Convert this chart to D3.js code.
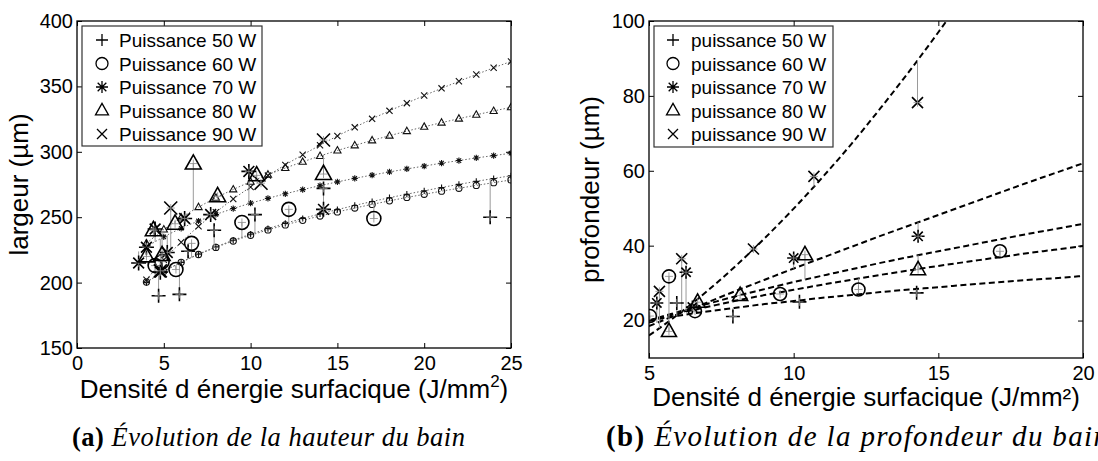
<!DOCTYPE html>
<html>
<head>
<meta charset="utf-8">
<script src="https://cdn.jsdelivr.net/npm/d3@7"></script>
<style>
  body { margin: 0; background: #fff; }
  svg { display: block; font-family: "Liberation Sans", Arial, sans-serif; }
</style>
</head>
<body>
<svg id="fig" width="1098" height="461"></svg>
<script>
// ---------- data ----------
const powerLabels = ["50 W", "60 W", "70 W", "80 W", "90 W"];
const markerKinds = ["plus", "circle", "star", "triangle", "cross"];

// (a) largeur du bain : courbes de tendance échantillonnées à chaque J/mm²
const fitAX = [4,5,6,7,8,9,10,11,12,13,14,15,16,17,18,19,20,21,22,23,24,25];
const fitA50 = [200.0,208.5,215.5,221.8,227.3,232.4,237.0,241.3,245.3,249.0,252.5,255.8,259.0,262.0,264.9,267.6,270.2,272.7,275.1,277.4,279.6,281.7];
const fitA60 = [200.4,208.6,215.5,221.5,226.9,231.8,236.2,240.3,244.1,247.6,250.9,254.0,257.0,259.8,262.5,265.1,267.5,269.9,272.1,274.3,276.4,278.5];
const fitA70 = [227.3,235.0,241.5,247.1,252.1,256.6,260.7,264.4,267.9,271.1,274.1,277.0,279.7,282.2,284.6,286.9,289.1,291.3,293.3,295.3,297.1,298.9];
const fitA80 = [230.0,240.6,249.7,257.7,264.8,271.2,277.1,282.5,287.6,292.3,296.8,301.0,304.9,308.7,312.3,315.8,319.1,322.3,325.3,328.3,331.2,334.0];
const fitA90 = [202.2,217.5,230.9,243.0,253.8,263.9,273.1,281.8,290.0,297.7,305.0,312.1,318.7,325.2,331.3,337.2,343.0,348.5,353.9,359.1,364.2,369.1];

// mesures [densité, largeur]
const dataA50 = [[4.7,190],[5.9,191],[6.4,224],[7.9,240],[10.25,252],[14.2,272],[23.8,250]];
const dataA60 = [[4.5,213],[4.9,216],[5.7,210],[6.6,230],[9.5,246],[12.2,256],[17.1,249]];
const dataA70 = [[3.55,215],[4.0,227],[4.5,241],[4.8,208],[5.2,223],[6.2,249],[7.7,252],[9.9,285],[14.2,256]];
const dataA80 = [[4.0,220],[4.4,240],[4.9,221],[5.65,245],[6.7,291],[8.1,266],[10.35,282],[14.2,283]];
const dataA90 = [[4.8,209],[5.4,257],[10.6,276],[14.2,309]];

// (b) profondeur du bain : courbes de tendance
const fitBX = [5,6,7,8,9,10,11,12,13,14,15,16,17,18,19,20];
const fitB50 = [20.0,21.3,22.4,23.4,24.4,25.2,26.1,26.8,27.6,28.3,28.9,29.6,30.2,30.8,31.3,31.9];
const fitB60 = [20.0,21.9,23.6,25.3,26.8,28.2,29.6,30.9,32.2,33.4,34.6,35.7,36.8,37.9,38.9,39.9];
const fitB70 = [18.5,21.7,24.8,27.9,30.9,33.9,36.8,39.7,42.6,45.4,48.2,51.0,53.8,56.6,59.3,62.0];
const fitB80 = [20.0,22.3,24.4,26.5,28.4,30.3,32.0,33.7,35.4,37.0,38.5,40.0,41.5,43.0,44.4,45.8];
const fitB90X = [5,6,7,8,9,10,11,12,13,14,15,16];
const fitB90 = [16.0,21.6,27.8,34.6,42.0,49.9,58.3,67.2,76.7,86.6,97.0,107.8];

const dataB50 = [[5.96,24.7],[7.9,21.1],[10.2,25.0],[14.25,27.4]];
const dataB60 = [[5.03,21.2],[5.69,31.8],[6.59,22.5],[9.53,27.1],[12.24,28.3],[17.13,38.5]];
const dataB70 = [[5.27,24.7],[6.28,32.9],[6.5,23.6],[10.0,36.7],[14.3,42.5]];
const dataB80 = [[5.69,17.1],[6.68,24.9],[8.15,26.7],[10.39,37.6],[14.3,33.6]];
const dataB90 = [[5.36,27.8],[6.13,36.5],[8.61,39.1],[10.7,58.5],[14.28,78.2]];

// axes
const ticksAX = [0,5,10,15,20,25];
const ticksAY = [150,200,250,300,350,400];
const ticksBX = [5,10,15,20];
const ticksBY = [20,40,60,80,100];

// ---------- helpers ----------
const svg = d3.select("#fig");

function markerPath(kind, s) {
  switch (kind) {
    case "plus":  return `M${-s},0H${s}M0,${-s}V${s}`;
    case "cross": return `M${-s},${-s}L${s},${s}M${-s},${s}L${s},${-s}`;
    case "star": {
      const d = s * 0.72;
      return `M${-s},0H${s}M0,${-s}V${s}M${-d},${-d}L${d},${d}M${-d},${d}L${d},${-d}`;
    }
    case "triangle": return `M0,${-s * 1.1}L${s},${s * 0.68}L${-s},${s * 0.68}Z`;
    default: return `M${s},0A${s},${s} 0 1,1 ${-s},0A${s},${s} 0 1,1 ${s},0Z`;
  }
}

function fitAt(xs, ys, x) {
  let i = d3.bisectRight(xs, x) - 1;
  i = Math.max(0, Math.min(xs.length - 2, i));
  const t = (x - xs[i]) / (xs[i + 1] - xs[i]);
  return ys[i] + t * (ys[i + 1] - ys[i]);
}

function drawPanel(opt) {
  const { x, y, id, series } = opt;
  const [x0, x1] = x.range();
  const [y0, y1] = y.range(); // y0 bottom, y1 top
  const g = svg.append("g");

  g.append("clipPath").attr("id", id).append("rect")
    .attr("x", x0).attr("y", y1).attr("width", x1 - x0).attr("height", y0 - y1);

  const plot = g.append("g").attr("clip-path", `url(#${id})`);
  const line = d3.line().x(d => x(d[0])).y(d => y(d[1])).curve(d3.curveMonotoneX);

  // fitted curves
  series.forEach(s => {
    const pts = s.fitX.map((v, i) => [v, s.fit[i]]);
    plot.append("path").attr("d", line(pts))
      .attr("fill", "none")
      .attr("stroke", opt.fitColor)
      .attr("stroke-width", opt.fitWidth)
      .attr("stroke-dasharray", opt.fitDash);
    if (opt.fitMarkers) {
      plot.selectAll(null).data(pts).join("path")
        .attr("transform", d => `translate(${x(d[0])},${y(d[1])})`)
        .attr("d", markerPath(s.kind, s.kind === "triangle" ? 3.6 : 3.1))
        .attr("fill", "none").attr("stroke", "#111").attr("stroke-width", 1.1);
    }
  });

  // residual stems from each measurement to its curve
  series.forEach(s => {
    plot.selectAll(null).data(s.data).join("line")
      .attr("x1", d => x(d[0])).attr("x2", d => x(d[0]))
      .attr("y1", d => y(d[1])).attr("y2", d => y(fitAt(s.fitX, s.fit, d[0])))
      .attr("stroke", "#9a9a9a").attr("stroke-width", 1);
  });

  // measurements
  series.forEach(s => {
    const sz = opt.bigSize[s.kind];
    plot.selectAll(null).data(s.data).join("path")
      .attr("transform", d => `translate(${x(d[0])},${y(d[1])})`)
      .attr("d", markerPath(s.kind, sz))
      .attr("fill", "none").attr("stroke", "#000").attr("stroke-width", 1.6);
    plot.selectAll(null).data(s.data).join("path")
      .attr("transform", d => `translate(${x(d[0])},${y(d[1])})`)
      .attr("d", markerPath("plus", 4))
      .attr("fill", "none").attr("stroke", "#8a8a8a").attr("stroke-width", 0.8);
  });

  // axes with inward ticks
  const fs = 20;
  const styleAxis = sel => {
    sel.select(".domain").remove();
    sel.selectAll(".tick line").attr("stroke", "#000").attr("stroke-width", 1);
    sel.attr("font-size", fs).attr("font-family", "Liberation Sans, Arial, sans-serif");
    sel.selectAll("text").attr("fill", "#000");
  };
  g.append("g").attr("transform", `translate(0,${y0})`)
    .call(d3.axisBottom(x).tickValues(opt.ticksX).tickFormat(d3.format("d"))
      .tickSize(-5).tickPadding(opt.xPad)).call(styleAxis);
  g.append("g").attr("transform", `translate(0,${y1})`)
    .call(d3.axisTop(x).tickValues(opt.ticksX).tickFormat("").tickSize(-5)).call(styleAxis);
  g.append("g").attr("transform", `translate(${x0},0)`)
    .call(d3.axisLeft(y).tickValues(opt.ticksY).tickFormat(d3.format("d"))
      .tickSize(-5).tickPadding(4)).call(styleAxis);
  g.append("g").attr("transform", `translate(${x1},0)`)
    .call(d3.axisRight(y).tickValues(opt.ticksY).tickFormat("").tickSize(-5)).call(styleAxis);

  // frame
  g.append("rect").attr("x", x0).attr("y", y1)
    .attr("width", x1 - x0).attr("height", y0 - y1)
    .attr("fill", "none").attr("stroke", "#000").attr("stroke-width", 1.3);

  // legend
  const L = opt.legend;
  const lg = g.append("g");
  lg.append("rect").attr("x", L.x).attr("y", L.y).attr("width", L.w).attr("height", L.h)
    .attr("fill", "#fff").attr("stroke", "#333").attr("stroke-width", 1.2);
  series.forEach((s, i) => {
    const cy = L.y + 14 + i * 23.5;
    lg.append("path").attr("transform", `translate(${L.x + L.mx},${cy})`)
      .attr("d", markerPath(s.kind, s.kind === "triangle" ? 6.5 : (s.kind === "cross" ? 5 : 6)))
      .attr("fill", "none").attr("stroke", "#000").attr("stroke-width", 1.3);
    lg.append("text").attr("x", L.x + L.tx).attr("y", cy + 7)
      .attr("font-size", 19).text(`${L.word} ${s.name}`);
  });

  // axis titles
  const xt = g.append("text").attr("x", (x0 + x1) / 2).attr("y", opt.xTitleY)
    .attr("text-anchor", "middle").attr("font-size", 26);
  opt.xTitle(xt);
  g.append("text").attr("transform", `translate(${opt.yTitleX},${(y0 + y1) / 2}) rotate(-90)`)
    .attr("text-anchor", "middle").attr("font-size", 26).text(opt.yTitle);

  // caption
  const cap = g.append("text").attr("x", opt.cap.x).attr("y", opt.cap.y)
    .attr("font-family", "Liberation Serif, Times New Roman, serif")
    .attr("font-size", opt.cap.size)
    .attr("textLength", opt.cap.len).attr("lengthAdjust", "spacing");
  cap.append("tspan").attr("font-weight", "bold").text(opt.cap.tag + " ");
  cap.append("tspan").attr("font-style", "italic").text(opt.cap.text);
}

function buildSeries(fits, fitXs, datas) {
  return powerLabels.map((name, i) => ({
    name, kind: markerKinds[i], fit: fits[i], fitX: fitXs[i], data: datas[i]
  }));
}

// ---------- panel (a) ----------
drawPanel({
  id: "clipA",
  x: d3.scaleLinear([0, 25], [77, 511]),
  y: d3.scaleLinear([150, 400], [348, 21]),
  ticksX: ticksAX, ticksY: ticksAY, xPad: 8,
  series: buildSeries([fitA50, fitA60, fitA70, fitA80, fitA90],
                      [fitAX, fitAX, fitAX, fitAX, fitAX],
                      [dataA50, dataA60, dataA70, dataA80, dataA90]),
  fitColor: "#666", fitWidth: 1, fitDash: "1.5,2", fitMarkers: true,
  bigSize: { plus: 7, circle: 7, star: 7.5, triangle: 8, cross: 6.5 },
  legend: { x: 82, y: 26, w: 180, h: 120, mx: 20, tx: 37, word: "Puissance" },
  xTitleY: 398,
  xTitle: t => {
    t.append("tspan").text("Densité d énergie surfacique (J/mm");
    t.append("tspan").attr("font-size", 17).attr("dy", -11).text("2");
    t.append("tspan").attr("dy", 11).text(")");
  },
  yTitleX: 28, yTitle: "largeur (µm)",
  cap: { x: 72, y: 446, size: 26.5, len: 393, tag: "(a)", text: "Évolution de la hauteur du bain" }
});

// ---------- panel (b) ----------
drawPanel({
  id: "clipB",
  x: d3.scaleLinear([5, 20], [649, 1083]),
  y: d3.scaleLinear([10, 100], [358, 21]),
  ticksX: ticksBX, ticksY: ticksBY, xPad: 8,
  series: buildSeries([fitB50, fitB60, fitB70, fitB80, fitB90],
                      [fitBX, fitBX, fitBX, fitBX, fitB90X],
                      [dataB50, dataB60, dataB70, dataB80, dataB90]),
  fitColor: "#000", fitWidth: 2, fitDash: "6,3.5", fitMarkers: false,
  bigSize: { plus: 7, circle: 6.5, star: 6.5, triangle: 7.5, cross: 5.5 },
  legend: { x: 654, y: 26, w: 179, h: 121, mx: 19, tx: 37, word: "puissance" },
  xTitleY: 406,
  xTitle: t => t.text("Densité d énergie surfacique (J/mm²)"),
  yTitleX: 599, yTitle: "profondeur (µm)",
  cap: { x: 606, y: 446, size: 29, len: 502, tag: "(b)", text: "Évolution de la profondeur du bain" }
});
</script>
</body>
</html>
